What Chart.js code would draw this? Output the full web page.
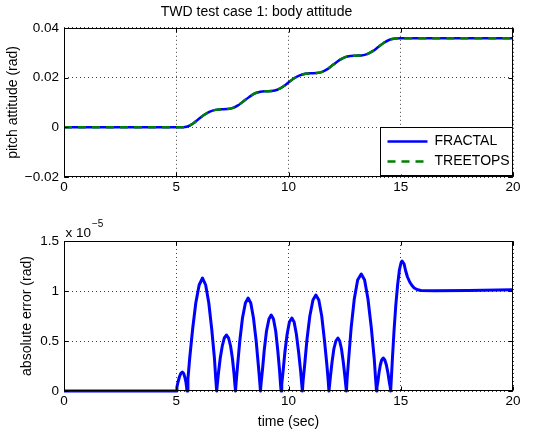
<!DOCTYPE html>
<html>
<head>
<meta charset="utf-8">
<script src="https://cdn.jsdelivr.net/npm/chart.js@4"></script>
<style>
  html, body { margin: 0; padding: 0; background: #fff; }
  #wrap { position: relative; width: 540px; height: 434px; }
  .panel { position: absolute; left: 0; width: 540px; height: 217px; }
</style>
</head>
<body>
<div id="wrap">
  <div class="panel" style="top:0"><canvas id="pitch"></canvas></div>
  <div class="panel" style="top:217px"><canvas id="error"></canvas></div>
</div>
<script>
// top panel: pitch attitude (rad)
const pitchTime = [0, 5.3, 5.5, 5.75, 6.0, 6.25, 6.5, 6.75, 7.0, 7.25, 7.5, 7.75, 8.0, 8.25, 8.5, 8.75,
  9.0, 9.25, 9.5, 9.75, 10.0, 10.25, 10.5, 10.75, 11.0, 11.25, 11.5, 11.75, 12.0, 12.25, 12.5, 12.75,
  13.0, 13.25, 13.5, 13.75, 14.0, 14.25, 14.5, 14.75, 15.0, 20];
const fractalPitch = [0, 0, 0.0003, 0.0015, 0.0033, 0.0050, 0.0063, 0.0070, 0.0072, 0.0073, 0.0077, 0.0088,
  0.0105, 0.0122, 0.0136, 0.0143, 0.0145, 0.0146, 0.0151, 0.0163, 0.0180, 0.0197, 0.0209, 0.0215, 0.0217,
  0.0218, 0.0223, 0.0235, 0.0252, 0.0269, 0.0281, 0.0287, 0.0288, 0.0289, 0.0294, 0.0306, 0.0323, 0.0340,
  0.0352, 0.0357, 0.0358, 0.0358];
const treetopsPitch = [0, 0, 0.0003, 0.0015, 0.0033, 0.0050, 0.0063, 0.0070, 0.0072, 0.0073, 0.0077, 0.0088,
  0.0105, 0.0122, 0.0136, 0.0143, 0.0145, 0.0146, 0.0151, 0.0163, 0.0180, 0.0197, 0.0209, 0.0215, 0.0217,
  0.0218, 0.0223, 0.0235, 0.0252, 0.0269, 0.0281, 0.0287, 0.0288, 0.0289, 0.0294, 0.0306, 0.0323, 0.0340,
  0.0352, 0.0357, 0.0358, 0.0358];

// bottom panel: absolute error, in units of 1e-5 rad
const errorTime = [0, 5.0,
  5.03, 5.08, 5.14, 5.2, 5.27, 5.33, 5.38, 5.43, 5.46, 5.48,
  5.52, 5.6, 5.73, 5.87, 6.02, 6.17, 6.31, 6.45, 6.58, 6.7, 6.76, 6.80,
  6.83, 6.88, 6.96, 7.05, 7.14, 7.24, 7.33, 7.42, 7.5, 7.57, 7.61, 7.64,
  7.67, 7.73, 7.83, 7.95, 8.08, 8.20, 8.32, 8.44, 8.56, 8.66, 8.72, 8.75,
  8.78, 8.84, 8.92, 9.02, 9.13, 9.23, 9.33, 9.43, 9.52, 9.6, 9.64, 9.67,
  9.70, 9.76, 9.84, 9.94, 10.04, 10.15, 10.25, 10.35, 10.45, 10.54, 10.59, 10.62,
  10.65, 10.72, 10.82, 10.95, 11.09, 11.22, 11.35, 11.48, 11.6, 11.71, 11.77, 11.80,
  11.83, 11.87, 11.94, 12.02, 12.11, 12.2, 12.28, 12.36, 12.44, 12.51, 12.55, 12.58,
  12.61, 12.68, 12.79, 12.93, 13.08, 13.24, 13.39, 13.54, 13.69, 13.82, 13.88, 13.92,
  13.94, 13.98, 14.03, 14.09, 14.15, 14.22, 14.29, 14.36, 14.43, 14.49, 14.53, 14.55,
  14.58, 14.63, 14.7, 14.78, 14.86, 14.94, 15.01, 15.06, 15.1,
  15.15, 15.22, 15.3, 15.4, 15.5, 15.6, 15.75, 15.9, 16.5, 18, 20];
const errorValue = [0, 0,
  0.04, 0.09, 0.14, 0.175, 0.19, 0.175, 0.14, 0.09, 0.04, 0,
  0.12, 0.33, 0.62, 0.88, 1.06, 1.13, 1.06, 0.88, 0.62, 0.33, 0.12, 0,
  0.07, 0.18, 0.33, 0.45, 0.53, 0.56, 0.53, 0.45, 0.33, 0.18, 0.07, 0,
  0.09, 0.25, 0.50, 0.73, 0.88, 0.93, 0.88, 0.73, 0.50, 0.25, 0.09, 0,
  0.08, 0.21, 0.41, 0.60, 0.72, 0.76, 0.72, 0.60, 0.41, 0.21, 0.08, 0,
  0.07, 0.20, 0.39, 0.57, 0.69, 0.73, 0.69, 0.57, 0.39, 0.20, 0.07, 0,
  0.10, 0.26, 0.51, 0.75, 0.91, 0.96, 0.91, 0.75, 0.51, 0.26, 0.10, 0,
  0.06, 0.15, 0.29, 0.42, 0.50, 0.53, 0.50, 0.42, 0.29, 0.15, 0.06, 0,
  0.12, 0.32, 0.63, 0.92, 1.11, 1.17, 1.11, 0.92, 0.63, 0.32, 0.12, 0,
  0.04, 0.09, 0.18, 0.26, 0.31, 0.33, 0.31, 0.26, 0.18, 0.09, 0.04, 0,
  0.12, 0.33, 0.60, 0.86, 1.06, 1.21, 1.28, 1.30, 1.30,
  1.27, 1.20, 1.14, 1.09, 1.055, 1.03, 1.012, 1.005, 1.003, 1.006, 1.012];

const timeTicks = [0, 5, 10, 15, 20];
const pitchTicks = [-0.02, 0, 0.02, 0.04];
const pitchTickLabels = ['\u22120.02', '0', '0.02', '0.04'];
const errorTicks = [0, 0.5, 1, 1.5];
const errorTickLabels = ['0', '0.5', '1', '1.5'];

const FONT = '"Liberation Sans", Arial, Helvetica, sans-serif';

// matlab style box, inward ticks, legend and exponent
const matlabBox = {
  id: 'matlabBox',
  afterDraw(chart, args, opts) {
    const ctx = chart.ctx;
    const a = chart.chartArea;
    const l = Math.round(a.left) + 0.5, r = Math.round(a.right) - 0.5;
    const t = Math.round(a.top) + 0.5, b = Math.round(a.bottom) - 0.5;
    ctx.save();
    ctx.strokeStyle = '#000';
    ctx.lineWidth = 1;
    ctx.setLineDash([]);
    ctx.strokeRect(l, t, r - l, b - t);
    ctx.beginPath();
    chart.scales.x.ticks.forEach(tk => {
      const px = Math.round(chart.scales.x.getPixelForValue(tk.value)) + 0.5;
      ctx.moveTo(px, b); ctx.lineTo(px, b - 4);
      ctx.moveTo(px, t); ctx.lineTo(px, t + 4);
    });
    chart.scales.y.ticks.forEach(tk => {
      const py = Math.round(chart.scales.y.getPixelForValue(tk.value)) + 0.5;
      ctx.moveTo(l, py); ctx.lineTo(l + 4, py);
      ctx.moveTo(r, py); ctx.lineTo(r - 4, py);
    });
    ctx.stroke();

    if (opts.exponent) {
      ctx.fillStyle = '#000';
      ctx.textBaseline = 'alphabetic';
      ctx.textAlign = 'left';
      ctx.font = '13.5px ' + FONT;
      ctx.fillText('x 10', l + 1, t - 5);
      const w = ctx.measureText('x 10').width;
      ctx.font = '10px ' + FONT;
      ctx.fillText(opts.exponent, l + 2 + w, t - 15);
    }

    if (opts.legend) {
      const lx = r - 133, ly = b - 50, lw = 133, lh = 48;
      ctx.fillStyle = '#fff';
      ctx.fillRect(lx, ly, lw, lh);
      ctx.strokeRect(Math.round(lx) + 0.5, Math.round(ly) + 0.5, lw - 1, lh);
      chart.data.datasets.forEach((ds, i) => {
        const y = ly + 15 + i * 20;
        ctx.beginPath();
        ctx.strokeStyle = ds.borderColor;
        ctx.lineWidth = ds.borderWidth;
        ctx.setLineDash(ds.borderDash || []);
        ctx.moveTo(lx + 8, y); ctx.lineTo(lx + 48, y);
        ctx.stroke();
        ctx.setLineDash([]);
        ctx.fillStyle = '#000';
        ctx.font = '14px ' + FONT;
        ctx.textBaseline = 'middle';
        ctx.fillText(ds.label, lx + 55, y);
      });
    }
    ctx.restore();
  }
};

function axisX(showTitle, height) {
  return {
    type: 'linear', min: 0, max: 20,
    afterBuildTicks: s => { s.ticks = timeTicks.map(v => ({ value: v })); },
    afterFit: s => { s.height = height; },
    ticks: { color: '#000', font: { family: FONT, size: 13.5 }, padding: 2, maxRotation: 0,
      callback: v => String(v) },
    grid: { color: 'rgba(0,0,0,0.75)', lineWidth: 1, drawTicks: false },
    border: { display: false, dash: [1, 3] },
    title: { display: showTitle, text: 'time (sec)', color: '#000',
      font: { family: FONT, size: 14 }, padding: { top: 0, bottom: 3.6 } }
  };
}

function axisY(min, max, values, labels, title, titlePad) {
  return {
    type: 'linear', min: min, max: max,
    afterBuildTicks: s => { s.ticks = values.map(v => ({ value: v })); },
    afterFit: s => { s.width = 64; },
    ticks: { color: '#000', font: { family: FONT, size: 13.5 }, padding: 5,
      callback: (v, i) => labels[values.indexOf(v)] },
    grid: { color: 'rgba(0,0,0,0.75)', lineWidth: 1, drawTicks: false },
    border: { display: false, dash: [1, 3] },
    title: { display: true, text: title, color: '#000',
      font: { family: FONT, size: 14 }, padding: { top: titlePad, bottom: 0 } }
  };
}

new Chart(document.getElementById('pitch'), {
  type: 'line',
  data: {
    datasets: [
      { label: 'FRACTAL', data: pitchTime.map((t, i) => ({ x: t, y: fractalPitch[i] })),
        borderColor: '#0000ff', borderWidth: 2.5, pointRadius: 0, cubicInterpolationMode: 'monotone',
        order: 2 },
      { label: 'TREETOPS', data: pitchTime.map((t, i) => ({ x: t, y: treetopsPitch[i] })),
        borderColor: '#008000', borderWidth: 2.5, borderDash: [8, 6], pointRadius: 0,
        cubicInterpolationMode: 'monotone', order: 1 }
    ]
  },
  options: {
    responsive: true, maintainAspectRatio: false, animation: false,
    layout: { padding: { left: 0, right: 27, top: 0, bottom: 0 } },
    plugins: {
      legend: { display: false },
      tooltip: { enabled: false },
      title: { display: true, text: 'TWD test case 1: body attitude', color: '#000',
        font: { family: FONT, size: 14, weight: 'normal' }, padding: { top: 4, bottom: 7 } },
      matlabBox: { legend: true }
    },
    scales: {
      x: axisX(false, 40),
      y: axisY(-0.02, 0.04, pitchTicks, pitchTickLabels, 'pitch attitude (rad)', 4.6)
    }
  },
  plugins: [matlabBox]
});

new Chart(document.getElementById('error'), {
  type: 'line',
  data: {
    datasets: [
      { label: 'error', data: errorTime.map((t, i) => ({ x: t, y: errorValue[i] })),
        borderColor: '#0000ff', borderWidth: 3, pointRadius: 0, tension: 0, clip: 3,
        borderJoinStyle: 'round' }
    ]
  },
  options: {
    responsive: true, maintainAspectRatio: false, animation: false,
    layout: { padding: { left: 0, right: 27, top: 24, bottom: 0 } },
    plugins: {
      legend: { display: false },
      tooltip: { enabled: false },
      matlabBox: { exponent: '\u22125' }
    },
    scales: {
      x: axisX(true, 43),
      y: axisY(0, 1.5, errorTicks, errorTickLabels, 'absolute error (rad)', 19)
    }
  },
  plugins: [matlabBox]
});
</script>
</body>
</html>
